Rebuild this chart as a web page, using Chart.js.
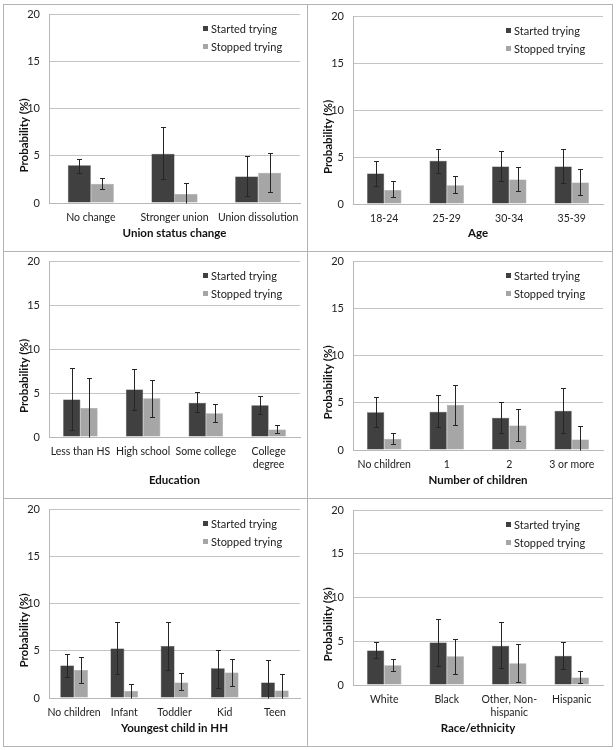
<!DOCTYPE html>
<html lang="en">
<head>
<meta charset="UTF-8">
<title>Probability of starting / stopping trying</title>
<script src="https://cdn.jsdelivr.net/npm/chart.js"></script>
<style>
    body { margin: 0; background: #fff; width: 616px; height: 750px; position: relative; overflow: hidden; }
    .line { position: absolute; background: #b4b4b4; }
    canvas { position: absolute; }
</style>
</head>
<body>
<div class="line" style="left:3px; top:4px; width:610px; height:1px;"></div>
<div class="line" style="left:3px; top:746px; width:610px; height:1px;"></div>
<div class="line" style="left:3px; top:4px; width:1px; height:743px;"></div>
<div class="line" style="left:612px; top:4px; width:1px; height:743px;"></div>
<div class="line" style="left:307px; top:4px; width:1px; height:743px;"></div>
<div class="line" style="left:3px; top:251px; width:610px; height:1px;"></div>
<div class="line" style="left:3px; top:498px; width:610px; height:1px;"></div>

<canvas id="c1"></canvas>
<canvas id="c2"></canvas>
<canvas id="c3"></canvas>
<canvas id="c4"></canvas>
<canvas id="c5"></canvas>
<canvas id="c6"></canvas>

<script>
// ---- data ----
const seriesNames = ['Started trying', 'Stopped trying'];
const yTicks = [0, 5, 10, 15, 20];
const yTitle = 'Probability (%)';

const unionCats = ['No change', 'Stronger union', 'Union dissolution'];
const unionStarted = [4.0, 5.2, 2.8];
const unionStartedCI = [[3.2, 4.7], [2.5, 8.0], [0.7, 4.95]];
const unionStopped = [2.05, 0.95, 3.2];
const unionStoppedCI = [[1.5, 2.65], [0, 2.1], [1.2, 5.25]];

const ageCats = ['18-24', '25-29', '30-34', '35-39'];
const ageStarted = [3.25, 4.6, 4.0, 4.0];
const ageStartedCI = [[1.9, 4.6], [3.3, 5.85], [2.5, 5.6], [2.2, 5.8]];
const ageStopped = [1.5, 2.0, 2.6, 2.3];
const ageStoppedCI = [[0.7, 2.4], [1.2, 2.95], [1.4, 3.9], [1.0, 3.7]];

const eduCats = ['Less than HS', 'High school', 'Some college', ['College', 'degree']];
const eduStarted = [4.25, 5.4, 3.9, 3.6];
const eduStartedCI = [[0.8, 7.8], [3.1, 7.7], [2.8, 5.1], [2.6, 4.7]];
const eduStopped = [3.3, 4.4, 2.7, 0.85];
const eduStoppedCI = [[0, 6.7], [2.3, 6.5], [1.7, 3.75], [0.5, 1.4]];

const kidsCats = ['No children', '1', '2', '3 or more'];
const kidsStarted = [4.0, 4.05, 3.4, 4.15];
const kidsStartedCI = [[2.4, 5.6], [2.4, 5.85], [1.8, 5.1], [1.8, 6.55]];
const kidsStopped = [1.2, 4.75, 2.6, 1.1];
const kidsStoppedCI = [[0.65, 1.85], [2.6, 6.85], [0.9, 4.35], [0, 2.5]];

const youngCats = ['No children', 'Infant', 'Toddler', 'Kid', 'Teen'];
const youngStarted = [3.45, 5.25, 5.5, 3.15, 1.65];
const youngStartedCI = [[2.2, 4.7], [2.5, 8.0], [3.0, 8.0], [1.1, 5.1], [0, 4.05]];
const youngStopped = [2.95, 0.75, 1.65, 2.7, 0.8];
const youngStoppedCI = [[1.6, 4.35], [0, 1.45], [0.8, 2.6], [1.3, 4.1], [0, 2.55]];

const raceCats = ['White', 'Black', ['Other, Non-', 'hispanic'], 'Hispanic'];
const raceStarted = [3.95, 4.85, 4.5, 3.35];
const raceStartedCI = [[3.1, 4.95], [2.2, 7.6], [1.9, 7.2], [1.8, 4.95]];
const raceStopped = [2.25, 3.3, 2.5, 0.85];
const raceStoppedCI = [[1.6, 3.0], [1.3, 5.3], [0.4, 4.7], [0.2, 1.55]];

const FONT = 'Lato, "Liberation Sans", sans-serif';
const darkColor = '#404040';
const lightColor = '#a6a6a6';

// error bars drawn with the chart's own scales
const errorBars = {
    id: 'errorBars',
    afterDatasetsDraw(chart) {
        const ctx = chart.ctx;
        const y = chart.scales.y;
        ctx.save();
        ctx.strokeStyle = '#262626';
        ctx.lineWidth = 1;
        chart.data.datasets.forEach((ds, di) => {
            const meta = chart.getDatasetMeta(di);
            meta.data.forEach((bar, i) => {
                const ci = ds.ci[i];
                const x = Math.round(bar.x) + 0.5;
                const top = Math.round(y.getPixelForValue(ci[1])) + 0.5;
                const bot = Math.round(y.getPixelForValue(ci[0])) + 0.5;
                ctx.beginPath();
                ctx.moveTo(x, top); ctx.lineTo(x, bot);
                ctx.moveTo(x - 2.5, top); ctx.lineTo(x + 2.5, top);
                if (ci[0] > 0) { ctx.moveTo(x - 2.5, bot); ctx.lineTo(x + 2.5, bot); }
                ctx.stroke();
            });
        });
        ctx.restore();
    }
};

// legend in the top-right of the plot area, y title set a bit below centre (as in Excel)
const extras = {
    id: 'extras',
    afterDraw(chart) {
        const ctx = chart.ctx;
        const a = chart.chartArea;
        ctx.save();
        ctx.font = '11px ' + FONT;
        ctx.textBaseline = 'middle';
        chart.data.datasets.forEach((ds, i) => {
            const mx = a.right - 97;
            const my = a.top + 15 + i * 18;
            ctx.fillStyle = ds.backgroundColor;
            ctx.fillRect(mx, my - 3, 5, 5);
            ctx.fillStyle = '#222';
            ctx.fillText(ds.label, mx + 8, my);
        });
        ctx.translate(chart.scales.y.left + 20, (a.top + a.bottom) / 2 + 27);
        ctx.rotate(-Math.PI / 2);
        ctx.textAlign = 'center';
        ctx.font = 'bold 11.5px ' + FONT;
        ctx.fillStyle = '#111';
        ctx.fillText(yTitle, 0, 0);
        ctx.restore();
    }
};

function makeChart(id, box, plot, cats, xTitle, started, startedCI, stopped, stoppedCI) {
    const canvas = document.getElementById(id);
    const cl = box[0] + 1, ct = box[1] + 1, cr = box[2], cb = box[3];
    canvas.style.left = cl + 'px';
    canvas.style.top = ct + 'px';
    canvas.width = cr - cl;
    canvas.height = cb - ct;

    return new Chart(canvas.getContext('2d'), {
        type: 'bar',
        data: {
            labels: cats,
            datasets: [
                { label: seriesNames[0], data: started, ci: startedCI, backgroundColor: darkColor, borderColor: '#333', borderWidth: 0.5 },
                { label: seriesNames[1], data: stopped, ci: stoppedCI, backgroundColor: lightColor, borderColor: '#9a9a9a', borderWidth: 0.5 }
            ]
        },
        options: {
            responsive: false,
            animation: false,
            devicePixelRatio: 1,
            layout: { padding: { left: 0, top: plot[1] - ct, right: cr - plot[2], bottom: 0 } },
            datasets: { bar: { categoryPercentage: 0.55, barPercentage: 1 } },
            plugins: { legend: { display: false }, tooltip: { enabled: false } },
            scales: {
                x: {
                    afterFit: s => { s.height = cb - plot[3]; s.paddingLeft = 0; s.paddingRight = 0; },
                    grid: { display: false, drawTicks: false },
                    border: { color: '#b8b8b8' },
                    ticks: { color: '#222', font: { family: FONT, size: 10.5, lineHeight: 1.25 }, padding: 8, maxRotation: 0, autoSkip: false },
                    title: { display: true, text: xTitle, color: '#111', font: { family: FONT, size: 11.5, weight: 'bold' }, padding: { top: 2, bottom: 11 } }
                },
                y: {
                    min: 0, max: 20,
                    afterFit: s => { s.width = plot[0] - cl; s.paddingTop = 0; s.paddingBottom = 0; },
                    afterBuildTicks: s => { s.ticks = yTicks.map(v => ({ value: v })); },
                    grid: { color: '#c4c4c4', drawTicks: false },
                    border: { color: '#b8b8b8' },
                    ticks: { color: '#222', font: { family: FONT, size: 11 }, padding: 9 }
                }
            }
        },
        plugins: [errorBars, extras]
    });
}

// panel box [left, top, right, bottom] and plot area [left, top, right, bottom], page pixels
makeChart('c1', [3, 4, 307, 251], [49, 14, 300, 203], unionCats, 'Union status change', unionStarted, unionStartedCI, unionStopped, unionStoppedCI);
makeChart('c2', [307, 4, 612, 251], [353, 16, 603, 204], ageCats, 'Age', ageStarted, ageStartedCI, ageStopped, ageStoppedCI);
makeChart('c3', [3, 251, 307, 498], [49, 261, 300, 437], eduCats, 'Education', eduStarted, eduStartedCI, eduStopped, eduStoppedCI);
makeChart('c4', [307, 251, 612, 498], [353, 261, 603, 450], kidsCats, 'Number of children', kidsStarted, kidsStartedCI, kidsStopped, kidsStoppedCI);
makeChart('c5', [3, 498, 307, 746], [49, 509, 300, 698], youngCats, 'Youngest child in HH', youngStarted, youngStartedCI, youngStopped, youngStoppedCI);
makeChart('c6', [307, 498, 612, 746], [353, 510, 603, 685], raceCats, 'Race/ethnicity', raceStarted, raceStartedCI, raceStopped, raceStoppedCI);
</script>
</body>
</html>
